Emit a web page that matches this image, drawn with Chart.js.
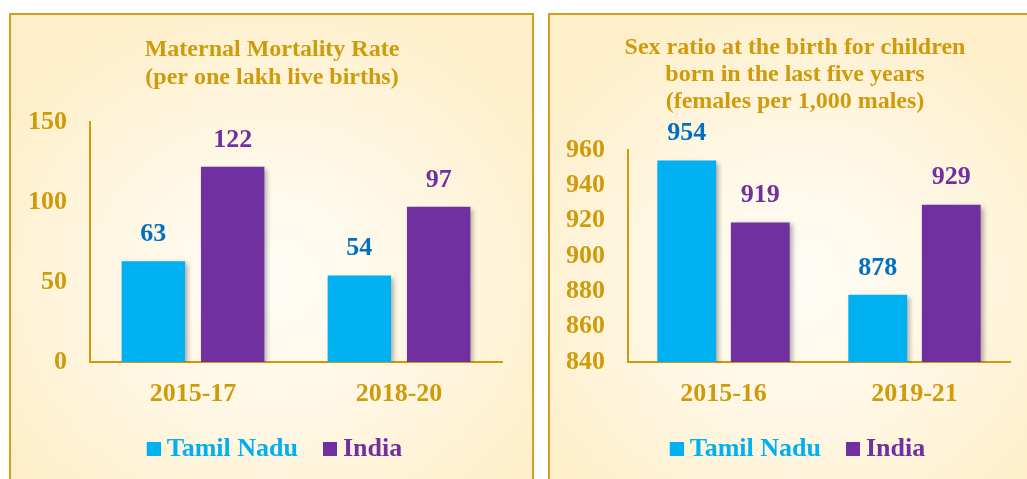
<!DOCTYPE html>
<html><head><meta charset="utf-8">
<script src="https://cdn.jsdelivr.net/npm/chart.js@4.4.1/dist/chart.umd.min.js"></script>
<style>
html,body{margin:0;padding:0;background:#fff;width:1027px;height:479px;overflow:hidden;position:relative}
.panel{position:absolute;box-sizing:border-box;border:2px solid #D4A017;
  background:radial-gradient(ellipse 62% 60% at 50% 55%, #fffdf7 0%, #fff7e4 50%, #feefca 100%);}
#p1{left:9px;top:13px;width:525px;height:490px}
#p2{left:548px;top:13px;width:500px;height:490px}
canvas{position:absolute;top:0}
#c1{left:0}
#c2{left:540px}
</style></head>
<body>
<div class="panel" id="p1"></div><div class="panel" id="p2"></div>
<canvas id="c1" width="544" height="479"></canvas>
<canvas id="c2" width="510" height="479"></canvas>
<script>
const FONT = "'Liberation Serif','Times New Roman',serif";
const GOLD = '#D09B0A';
const BLUE = '#00B0F0', PURPLE = '#7030A0', DARKBLUE = '#0070C0';

const seriesNames = ['Tamil Nadu', 'India'];

const mmrTitle = ['Maternal Mortality Rate', '(per one lakh live births)'];
const mmrCategories = ['2015-17', '2018-20'];
const mmrTamilNadu = [63, 54];
const mmrIndia = [122, 97];
const mmrTicks = [0, 50, 100, 150];

const srbTitle = ['Sex ratio at the birth for children', 'born in the last five years', '(females per 1,000 males)'];
const srbCategories = ['2015-16', '2019-21'];
const srbTamilNadu = [954, 878];
const srbIndia = [919, 929];
const srbTicks = [840, 860, 880, 900, 920, 940, 960];

function swatch(color) {
  const c = document.createElement('canvas');
  c.width = 26; c.height = 14;
  const x = c.getContext('2d');
  x.fillStyle = color;
  x.fillRect(12, 0, 14, 14);
  return c;
}
const swatches = [swatch(BLUE), swatch(PURPLE)];

const barShadow = {
  id: 'barShadow',
  beforeDatasetsDraw(chart) {
    const ctx = chart.ctx;
    ctx.save();
    ctx.shadowColor = 'rgba(0,0,0,0.32)';
    ctx.shadowBlur = 5;
    ctx.shadowOffsetX = 3;
    ctx.shadowOffsetY = 2;
  },
  afterDatasetsDraw(chart) { chart.ctx.restore(); }
};
const valueLabels = {
  id: 'valueLabels',
  afterDatasetsDraw(chart) {
    const ctx = chart.ctx;
    ctx.save();
    ctx.font = 'bold 26px ' + FONT;
    ctx.textAlign = 'center';
    ctx.textBaseline = 'middle';
    chart.data.datasets.forEach((ds, i) => {
      const meta = chart.getDatasetMeta(i);
      ctx.fillStyle = ds.labelColor;
      meta.data.forEach((el, j) => ctx.fillText(String(ds.data[j]), el.x, el.y - 27));
    });
    ctx.restore();
  }
};

function makeChart(id, cats, tn, ind, ticks, title, titleLH, titlePad, leftW, rightW) {
  const tickFont = {family: FONT, size: 26, weight: 'bold'};
  return new Chart(document.getElementById(id), {
    type: 'bar',
    data: {
      labels: cats,
      datasets: [
        {label: seriesNames[0], data: tn, backgroundColor: BLUE, labelColor: DARKBLUE, legendColor: BLUE,
         categoryPercentage: 0.77, barPercentage: 0.8},
        {label: seriesNames[1], data: ind, backgroundColor: PURPLE, labelColor: PURPLE, legendColor: PURPLE,
         categoryPercentage: 0.77, barPercentage: 0.8}
      ]
    },
    options: {
      responsive: false, animation: false, devicePixelRatio: 1,
      layout: {padding: {left: 0, right: 0, top: 0, bottom: 7}},
      plugins: {
        title: {display: true, text: title, color: GOLD,
          font: {family: FONT, size: 24, weight: 'bold', lineHeight: titleLH}, padding: titlePad},
        legend: {position: 'bottom',
          labels: {usePointStyle: true, boxWidth: 12, padding: 20, font: tickFont,
            generateLabels: (chart) => chart.data.datasets.map((ds, i) => ({
              text: ds.label, fillStyle: ds.legendColor, strokeStyle: ds.legendColor, lineWidth: 0,
              pointStyle: swatches[i], fontColor: ds.legendColor, datasetIndex: i, hidden: false
            }))
          }},
        tooltip: {enabled: false}
      },
      scales: {
        x: {grid: {display: false, drawTicks: false}, border: {display: true, color: GOLD, width: 2},
            ticks: {color: GOLD, font: tickFont, padding: 17},
            afterFit(s) { s.height = 54; }},
        y: {min: ticks[0], max: ticks[ticks.length - 1],
            grid: {display: false, drawTicks: false}, border: {display: true, color: GOLD, width: 2},
            ticks: {stepSize: ticks[1] - ticks[0], color: GOLD, font: tickFont, padding: 23},
            afterFit(s) { s.width = leftW; }},
        yPad: {position: 'right', display: true,
            grid: {display: false, drawTicks: false}, border: {display: false},
            ticks: {display: false},
            afterFit(s) { s.width = rightW; }}
      }
    },
    plugins: [barShadow, valueLabels]
  });
}

makeChart('c1', mmrCategories, mmrTamilNadu, mmrIndia, mmrTicks, mmrTitle, '28px', {top: 36, bottom: 30}, 90, 42);
makeChart('c2', srbCategories, srbTamilNadu, srbIndia, srbTicks, srbTitle, '27px', {top: 34.3, bottom: 34.7}, 88, 40);
</script>
</body></html>
